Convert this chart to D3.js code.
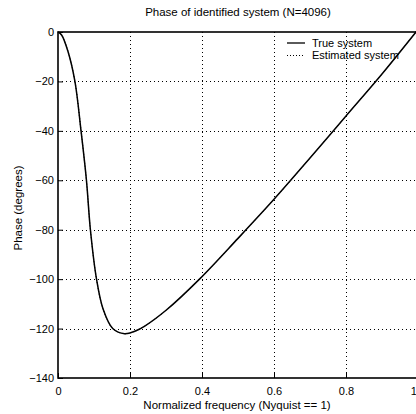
<!DOCTYPE html>
<html lang="en">
<head>
<meta charset="UTF-8">
<script src="https://d3js.org/d3.v7.min.js"></script>
<title>Phase of identified system</title>
<style>
  body { margin: 0; background: #fff; }
  text { font-family: "Liberation Sans Narrow", "Liberation Sans", Arial, sans-serif; fill: #000; }
</style>
</head>
<body>
<svg id="chart" width="416" height="414"></svg>
<script>
// tick values
var xTicks = [0, 0.2, 0.4, 0.6, 0.8, 1];
var yTicks = [0, -20, -40, -60, -80, -100, -120, -140];

// phase curve (frequency, degrees)
var freq  = [0, 0.01, 0.028, 0.047, 0.064, 0.079, 0.090, 0.107, 0.125, 0.152, 0.185, 0.215, 0.241, 0.301, 0.393, 0.5, 0.6, 0.7, 0.8, 0.9, 1.0];
var phase = [0, -1.2, -8, -20, -40, -60, -80, -100, -112, -120, -122.1, -121, -119, -112.5, -100, -83.5, -67.7, -51, -34, -17, 1];
var points = freq.map(function(f, i) { return [f, phase[i]]; });

var svg = d3.select("#chart");

// plot box (right edge runs just past the window)
var pLeft = 58, pRight = 418, pTop = 32, pBottom = 378;

var x = d3.scaleLinear().domain([0, 1]).range([pLeft, pRight]);
var y = d3.scaleLinear().domain([-140, 0]).range([pBottom, pTop]);

// grid
var grid = svg.append("g");
grid.selectAll(".gx").data(xTicks.slice(1, -1)).enter().append("line")
    .attr("x1", d => Math.round(x(d)) + 0.5).attr("x2", d => Math.round(x(d)) + 0.5)
    .attr("y1", pTop).attr("y2", pBottom);
grid.selectAll(".gy").data(yTicks.slice(1, -1)).enter().append("line")
    .attr("x1", pLeft).attr("x2", pRight)
    .attr("y1", d => Math.round(y(d)) + 0.5).attr("y2", d => Math.round(y(d)) + 0.5);
grid.selectAll("line")
    .attr("stroke", "#000")
    .attr("stroke-width", 1)
    .attr("stroke-dasharray", "1,3");

// axes, ticks pointing in
var xAxis = svg.append("g")
    .attr("transform", "translate(0," + pBottom + ")")
    .call(d3.axisBottom(x).tickValues(xTicks).tickSize(-5).tickPadding(9)
        .tickFormat(d => d === 0 ? "0" : d3.format(".1f")(d)));
var yAxis = svg.append("g")
    .attr("transform", "translate(" + pLeft + ",0)")
    .call(d3.axisLeft(y).tickValues(yTicks).tickSize(-5).tickPadding(4)
        .tickFormat(d => d === 0 ? "0" : "\u2212" + Math.abs(d)));
[xAxis, yAxis].forEach(function(a) {
  a.select(".domain").remove();
  a.selectAll("text").style("font-size", "11px").style("font-family", null);
  a.selectAll("line").attr("stroke-width", 1);
});

// box
svg.append("rect")
    .attr("x", pLeft).attr("y", pTop)
    .attr("width", pRight - pLeft).attr("height", pBottom - pTop)
    .attr("fill", "none").attr("stroke", "#000").attr("stroke-width", 1.6);

// curves (true and estimated overlap)
var line = d3.line().x(d => x(d[0])).y(d => y(d[1])).curve(d3.curveCatmullRom.alpha(0.5));
svg.append("path").datum(points)
    .attr("d", line).attr("fill", "none")
    .attr("stroke", "#000").attr("stroke-width", 1.5);
svg.append("path").datum(points)
    .attr("d", line).attr("fill", "none")
    .attr("stroke", "#000").attr("stroke-width", 1).attr("stroke-dasharray", "1,2");

// legend
var lg = svg.append("g").attr("transform", "translate(287,0)");
lg.append("line").attr("x1", 0).attr("x2", 18).attr("y1", 43).attr("y2", 43)
    .attr("stroke", "#000").attr("stroke-width", 1.3);
lg.append("line").attr("x1", 0).attr("x2", 18).attr("y1", 55.5).attr("y2", 55.5)
    .attr("stroke", "#000").attr("stroke-width", 1).attr("stroke-dasharray", "1,2");
lg.append("text").attr("x", 25).attr("y", 47).style("font-size", "11px").text("True system");
lg.append("text").attr("x", 25).attr("y", 59).style("font-size", "11px").text("Estimated system");

// labels
svg.append("text").attr("x", 238).attr("y", 16).attr("text-anchor", "middle")
    .style("font-size", "11.5px").text("Phase of identified system (N=4096)");
svg.append("text").attr("x", 237).attr("y", 409).attr("text-anchor", "middle")
    .style("font-size", "11.5px").text("Normalized frequency (Nyquist == 1)");
svg.append("text").attr("transform", "translate(22,208) rotate(-90)").attr("text-anchor", "middle")
    .style("font-size", "11.5px").text("Phase (degrees)");
</script>
</body>
</html>
